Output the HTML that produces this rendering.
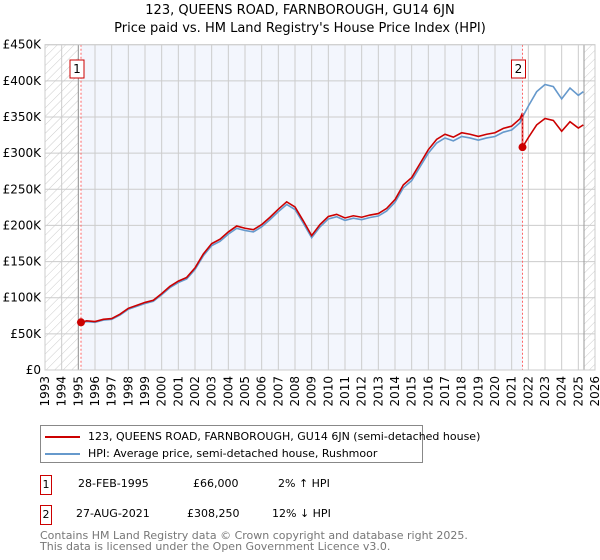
<!DOCTYPE html>
<html><head><meta charset="utf-8"><style>
body{margin:0;width:600px;height:560px;background:#fff;font-family:"DejaVu Sans","Liberation Sans",sans-serif;color:#000;position:relative;overflow:hidden}
.abs{position:absolute}
</style></head><body>
<div class="abs" style="left:0;top:2px;width:600px;text-align:center;font-size:13px;line-height:18px">123, QUEENS ROAD, FARNBOROUGH, GU14 6JN<br>Price paid vs. HM Land Registry's House Price Index (HPI)</div>
<svg class="abs" style="left:0;top:0;font-family:'DejaVu Sans',sans-serif" width="600" height="420" id="chart">
<defs><pattern id="hatch" width="6" height="6" patternUnits="userSpaceOnUse" patternTransform="rotate(45)"><line x1="0" y1="0" x2="0" y2="6" stroke="#ccc" stroke-width="1"/></pattern></defs>
<g id="g"></g>
</svg>
<div class="abs" style="left:40px;top:425px;width:381px;height:36px;border:1px solid #888;font-size:11px;white-space:nowrap">
<div style="position:absolute;left:4px;top:4px"><span style="display:inline-block;width:35px;height:2px;background:#cc0000;vertical-align:middle;margin-right:8px"></span>123, QUEENS ROAD, FARNBOROUGH, GU14 6JN (semi-detached house)</div>
<div style="position:absolute;left:4px;top:21px"><span style="display:inline-block;width:35px;height:2px;background:#6699cc;vertical-align:middle;margin-right:8px"></span>HPI: Average price, semi-detached house, Rushmoor</div>
</div>
<div style="position:absolute;left:0;top:475px;font-size:11px;white-space:nowrap">
<span class="abs" style="left:40px;top:0;width:10px;height:18px;border:1px solid #c00;text-align:center;line-height:18px">1</span>
<span class="abs" style="left:78px;top:2px">28-FEB-1995</span>
<span class="abs" style="left:193px;top:2px">£66,000</span>
<span class="abs" style="left:278px;top:2px">2% ↑ HPI</span></div>
<div style="position:absolute;left:0;top:505px;font-size:11px;white-space:nowrap">
<span class="abs" style="left:40px;top:0;width:10px;height:18px;border:1px solid #c00;text-align:center;line-height:18px">2</span>
<span class="abs" style="left:76px;top:2px">27-AUG-2021</span>
<span class="abs" style="left:187px;top:2px">£308,250</span>
<span class="abs" style="left:272px;top:2px">12% ↓ HPI</span></div>
<div class="abs" style="left:40px;top:530px;font-size:11px;line-height:11px;color:#777;white-space:nowrap">Contains HM Land Registry data © Crown copyright and database right 2025.<br>This data is licensed under the Open Government Licence v3.0.</div>
<script>
const hpiYears=[1995,1995.5,1996,1996.5,1997,1997.5,1998,1998.5,1999,1999.5,2000,2000.5,2001,2001.5,2002,2002.5,2003,2003.5,2004,2004.5,2005,2005.5,2006,2006.5,2007,2007.5,2008,2008.5,2009,2009.5,2010,2010.5,2011,2011.5,2012,2012.5,2013,2013.5,2014,2014.5,2015,2015.5,2016,2016.5,2017,2017.5,2018,2018.5,2019,2019.5,2020,2020.5,2021,2021.5,2021.65,2022,2022.5,2023,2023.5,2024,2024.5,2025,2025.3];
const hpiValues=[64,67,66,69,70,76,84,88,92,95,104,114,121,126,139,158,172,178,188,196,193,191,198,208,219,229,222,203,183,198,209,212,207,210,208,211,213,220,232,252,262,281,300,314,321,317,323,321,318,321,323,329,332,342,350,365,385,395,392,375,390,380,385];
const saleYears=[1995.16,2021.65];
const salePrices=[66,308.25];
const saleLabels=["1","2"];
const yTicks=[0,50,100,150,200,250,300,350,400,450];
const yTickLabels=["£0","£50K","£100K","£150K","£200K","£250K","£300K","£350K","£400K","£450K"];
const xTicks=[];for(let y=1993;y<=2026;y++)xTicks.push(y);
const x0=45,x1=595,yTop=44.7,yBot=370,dataEnd=2025.34;
const X=v=>x0+(v-1993)/(2026-1993)*(x1-x0);
const Y=v=>yBot-v/450*(yBot-yTop);
const g=document.getElementById('g');const NS='http://www.w3.org/2000/svg';
function mk(t,a,p){const e=document.createElementNS(NS,t);for(const k in a)e.setAttribute(k,a[k]);(p||g).appendChild(e);return e;}
let e;
e=mk('rect',{x:x0,y:yTop,width:x1-x0,height:yBot-yTop,fill:'#fff'});


e=mk('rect',{x:X(saleYears[0]),y:yTop,width:X(saleYears[1])-X(saleYears[0]),height:yBot-yTop,fill:'#f3f6fd'});


e=mk('rect',{x:x0,y:yTop,width:X(1995)-x0,height:yBot-yTop,fill:'url(#hatch)'});


e=mk('rect',{x:X(dataEnd),y:yTop,width:x1-X(dataEnd),height:yBot-yTop,fill:'url(#hatch)'});


xTicks.forEach(t=>{mk('line',{x1:X(t),x2:X(t),y1:yTop,y2:yBot,stroke:'#ccc','stroke-width':1});
 e=mk('text',{x:0,y:0,transform:`translate(${X(t)+4},${yBot+6}) rotate(-90)`,'text-anchor':'end','font-size':12});e.textContent=t;
 
 });
yTicks.forEach((t,i)=>{mk('line',{x1:x0,x2:x1,y1:Y(t),y2:Y(t),stroke:'#ccc','stroke-width':1});
 e=mk('text',{x:x0-4,y:Y(t)+4,'text-anchor':'end','font-size':12});e.textContent=yTickLabels[i];
 
 });
mk('line',{x1:X(1995),x2:X(1995),y1:yTop,y2:yBot,stroke:'#999'});
mk('line',{x1:X(dataEnd),x2:X(dataEnd),y1:yTop,y2:yBot,stroke:'#999'});
let pts=hpiYears.map((y,i)=>X(y)+','+Y(hpiValues[i])).join(' ');
e=mk('polyline',{points:pts,fill:'none',stroke:'#6699cc','stroke-width':1.6});


function hpiAt(y){for(let i=0;i<hpiYears.length-1;i++){if(y<=hpiYears[i+1]){const f=(y-hpiYears[i])/(hpiYears[i+1]-hpiYears[i]);return hpiValues[i]+f*(hpiValues[i+1]-hpiValues[i]);}}return hpiValues[hpiValues.length-1];}
const r1=salePrices[0]/hpiAt(saleYears[0]),r2=salePrices[1]/hpiAt(saleYears[1]);
let pp=[[saleYears[0],salePrices[0]]];
hpiYears.forEach((y,i)=>{if(y>saleYears[0]&&y<saleYears[1])pp.push([y,hpiValues[i]*r1]);});
pp.push([saleYears[1],hpiAt(saleYears[1])*r1]);pp.push([saleYears[1],salePrices[1]]);
hpiYears.forEach((y,i)=>{if(y>saleYears[1])pp.push([y,hpiValues[i]*r2]);});
e=mk('polyline',{points:pp.map(p=>X(p[0])+','+Y(p[1])).join(' '),fill:'none',stroke:'#cc0000','stroke-width':1.6});


saleYears.forEach((s,i)=>{
 mk('line',{x1:X(s),x2:X(s),y1:yTop,y2:yBot,stroke:'#ff6666','stroke-dasharray':'2,2'});
 e=mk('circle',{cx:X(s),cy:Y(salePrices[i]),r:4,fill:'#cc0000'});
 
 
 e=mk('rect',{x:X(s)-11,y:60,width:14,height:18,fill:'#fff',stroke:'#cc0000'});
 
 
 e=mk('text',{x:X(s)-4,y:73,'text-anchor':'middle','font-size':12});e.textContent=saleLabels[i];
});
mk('rect',{x:x0,y:yTop,width:x1-x0,height:yBot-yTop,fill:'none',stroke:'#ccc'});
</script>
</body></html>
